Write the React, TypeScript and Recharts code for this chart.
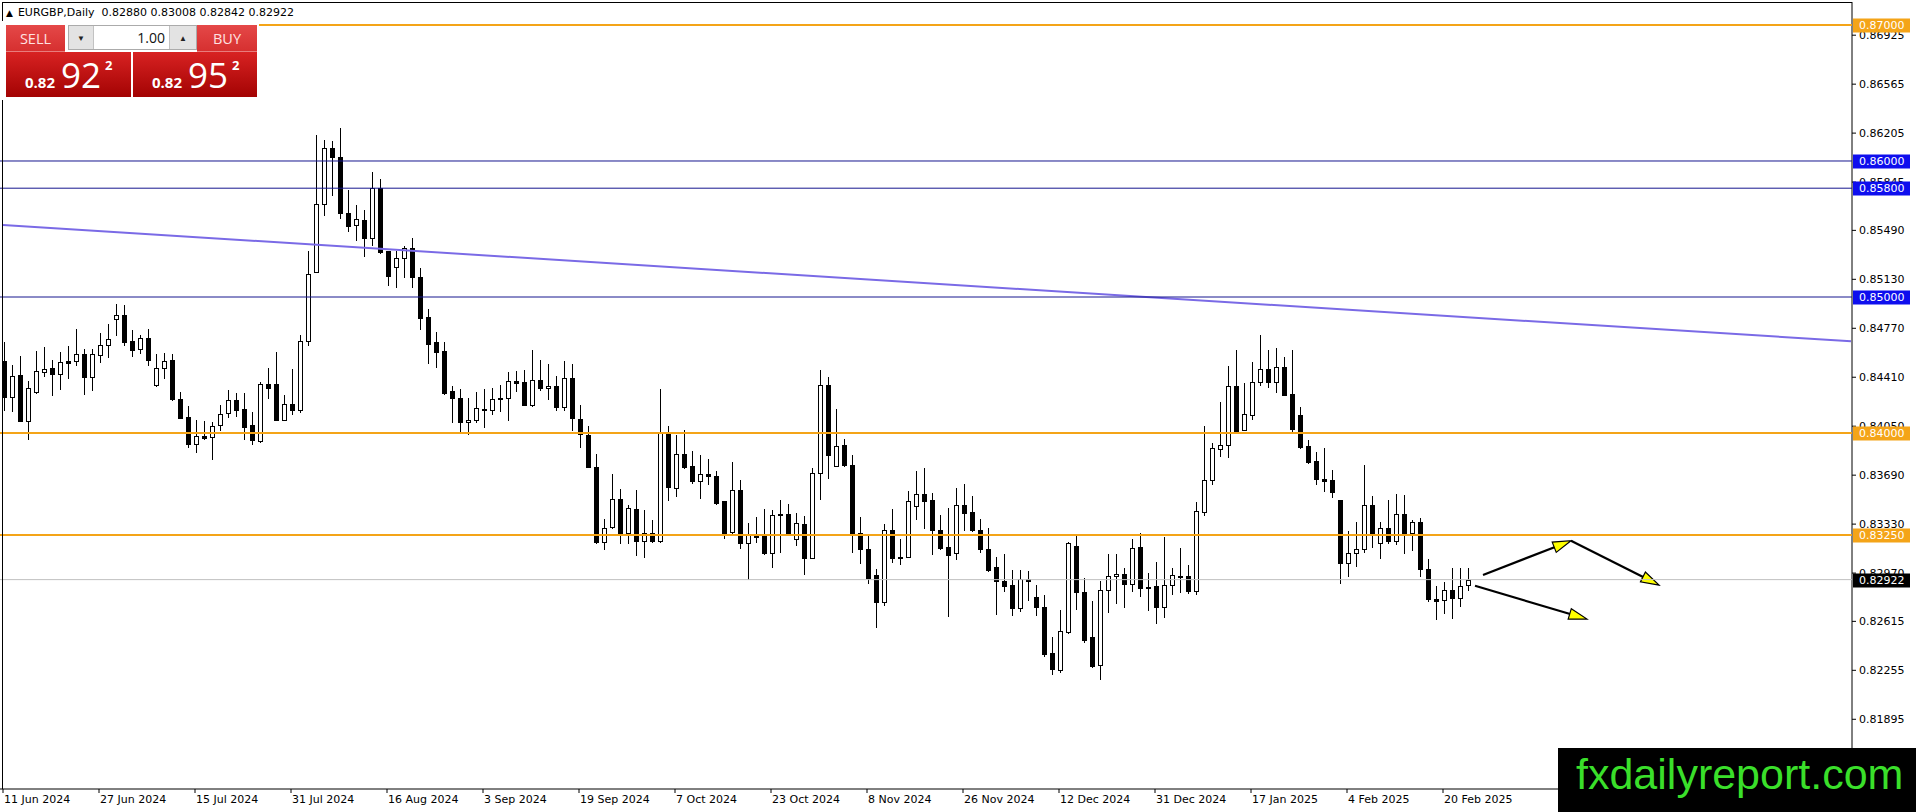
import React from 'react';
import { ComposedChart, Bar, XAxis, YAxis, ReferenceLine } from 'recharts';

// ---- candle data (EURGBP daily, 11 Jun 2024 .. 25 Feb 2025) ----
const opens = [
  0.84527,0.84265,0.84424,0.84089,0.84302,0.84451,0.84476,0.84437,0.84527,0.84530,
  0.84579,0.84412,0.84576,0.84650,0.84841,0.84865,0.84674,0.84620,0.84701,0.84353,
  0.84478,0.84535,0.84253,0.84116,0.83922,0.83976,0.83971,0.84057,0.84147,0.84240,
  0.84174,0.84057,0.83939,0.84359,0.84359,0.84098,0.84216,0.84172,0.84677,0.85183,
  0.85685,0.86098,0.86032,0.85619,0.85528,0.85569,0.85434,0.85798,0.85336,0.85218,
  0.85287,0.85360,0.85146,0.84851,0.84667,0.84603,0.84308,0.84261,0.84081,0.84098,
  0.84180,0.84172,0.84260,0.84260,0.84385,0.84373,0.84206,0.84392,0.84333,0.84348,
  0.84191,0.84407,0.84105,0.83983,0.83748,0.83201,0.83309,0.83517,0.83267,0.83444,
  0.83206,0.83267,0.83203,0.84007,0.83598,0.83843,0.83755,0.83647,0.83701,0.83681,
  0.83498,0.83272,0.83583,0.83191,0.83235,0.83243,0.83118,0.83402,0.83407,0.83223,
  0.83333,0.83081,0.83708,0.84350,0.83760,0.83914,0.83767,0.83267,0.83149,0.82953,
  0.82757,0.83289,0.83091,0.83091,0.83463,0.83554,0.83510,0.83284,0.83159,0.83120,
  0.83468,0.83417,0.83289,0.83149,0.83018,0.82915,0.82886,0.82711,0.82927,0.82797,
  0.82723,0.82384,0.82261,0.82539,0.83166,0.82834,0.82497,0.82293,0.82846,0.82947,
  0.82964,0.82891,0.83161,0.82871,0.82873,0.82723,0.82883,0.82952,0.82947,0.82839,
  0.83419,0.83652,0.83880,0.83909,0.84345,0.84020,0.84130,0.84377,0.84468,0.84372,
  0.84483,0.84287,0.84132,0.83904,0.83794,0.83659,0.83655,0.83508,0.83042,0.83116,
  0.83145,0.83471,0.83189,0.83299,0.83209,0.83405,0.83263,0.83348,0.83000,0.82780,
  0.82773,0.82846,0.82785,0.82880,
];
const highs = [
  0.84669,0.84498,0.84564,0.84383,0.84601,0.84633,0.84535,0.84596,0.84637,0.84762,
  0.84620,0.84620,0.84738,0.84804,0.84951,0.84939,0.84755,0.84723,0.84767,0.84584,
  0.84588,0.84584,0.84302,0.84199,0.84098,0.84086,0.84081,0.84209,0.84314,0.84297,
  0.84294,0.84155,0.84376,0.84480,0.84593,0.84278,0.84470,0.84721,0.85341,0.86189,
  0.86153,0.86148,0.86239,0.85784,0.85680,0.85643,0.85921,0.85865,0.85336,0.85336,
  0.85373,0.85434,0.85213,0.84910,0.84740,0.84667,0.84344,0.84327,0.84261,0.84303,
  0.84327,0.84333,0.84355,0.84449,0.84453,0.84461,0.84613,0.84534,0.84510,0.84417,
  0.84527,0.84510,0.84208,0.84049,0.83848,0.83370,0.83701,0.83586,0.83473,0.83583,
  0.83431,0.83363,0.84326,0.84049,0.83983,0.84025,0.83865,0.83836,0.83811,0.83718,
  0.83498,0.83787,0.83652,0.83341,0.83382,0.83444,0.83431,0.83505,0.83480,0.83414,
  0.83387,0.83745,0.84461,0.84412,0.84174,0.83958,0.83836,0.83382,0.83243,0.82998,
  0.83328,0.83439,0.83218,0.83571,0.83718,0.83743,0.83561,0.83395,0.83449,0.83596,
  0.83627,0.83538,0.83370,0.83299,0.83087,0.83107,0.82996,0.82989,0.82982,0.82886,
  0.82812,0.82497,0.82699,0.83198,0.83242,0.82937,0.82768,0.82910,0.83107,0.83107,
  0.83009,0.83223,0.83264,0.82972,0.83055,0.83235,0.83009,0.83156,0.83033,0.83493,
  0.84052,0.83929,0.84230,0.84492,0.84610,0.84370,0.84522,0.84720,0.84610,0.84622,
  0.84561,0.84610,0.84189,0.83949,0.83858,0.83892,0.83728,0.83508,0.83282,0.83348,
  0.83765,0.83539,0.83348,0.83508,0.83552,0.83544,0.83361,0.83373,0.83074,0.82875,
  0.82902,0.83005,0.83005,0.83008,
];
const lows = [
  0.84167,0.84162,0.84085,0.83959,0.84294,0.84417,0.84277,0.84321,0.84405,0.84498,
  0.84290,0.84314,0.84522,0.84559,0.84723,0.84645,0.84569,0.84588,0.84500,0.84346,
  0.84405,0.84240,0.84110,0.83898,0.83861,0.83959,0.83812,0.84020,0.84118,0.84123,
  0.83959,0.83921,0.83934,0.84261,0.84093,0.84093,0.84138,0.84155,0.84647,0.85183,
  0.85606,0.85747,0.85582,0.85483,0.85422,0.85299,0.85385,0.85323,0.85090,0.85070,
  0.85144,0.85077,0.84765,0.84512,0.84487,0.84290,0.84081,0.84007,0.83990,0.84081,
  0.84044,0.84137,0.84162,0.84098,0.84309,0.84206,0.84199,0.84319,0.84252,0.84167,
  0.84167,0.84020,0.83897,0.83750,0.83191,0.83147,0.83301,0.83191,0.83191,0.83100,
  0.83088,0.83196,0.83196,0.83510,0.83534,0.83745,0.83632,0.83525,0.83623,0.83480,
  0.83230,0.83260,0.83154,0.82924,0.83199,0.83113,0.83015,0.83125,0.83248,0.83179,
  0.82966,0.83081,0.83517,0.83672,0.83760,0.83755,0.83125,0.83047,0.82897,0.82574,
  0.82738,0.83051,0.83039,0.83088,0.83365,0.83301,0.83113,0.83150,0.82654,0.83071,
  0.83289,0.83279,0.83124,0.82984,0.82669,0.82841,0.82664,0.82689,0.82772,0.82664,
  0.82362,0.82226,0.82246,0.82526,0.82706,0.82465,0.82276,0.82194,0.82681,0.82748,
  0.82723,0.82836,0.82800,0.82699,0.82600,0.82645,0.82817,0.82829,0.82822,0.82817,
  0.83400,0.83623,0.83831,0.83821,0.84010,0.84020,0.84100,0.84353,0.84341,0.84304,
  0.84282,0.84017,0.83887,0.83777,0.83623,0.83576,0.83527,0.82895,0.82949,0.83022,
  0.83123,0.83165,0.83079,0.83194,0.83184,0.83116,0.83140,0.82949,0.82765,0.82630,
  0.82680,0.82638,0.82731,0.82842,
];
const closes = [
  0.84265,0.84422,0.84089,0.84334,0.84454,0.84468,0.84434,0.84520,0.84517,0.84579,
  0.84412,0.84579,0.84645,0.84694,0.84865,0.84669,0.84608,0.84701,0.84535,0.84481,
  0.84532,0.84253,0.84113,0.83917,0.83976,0.83964,0.84052,0.84143,0.84240,0.84172,
  0.84045,0.83946,0.84359,0.84332,0.84098,0.84216,0.84172,0.84677,0.85169,0.85685,
  0.86098,0.86032,0.85619,0.85520,0.85574,0.85434,0.85798,0.85328,0.85151,0.85287,
  0.85360,0.85144,0.84849,0.84652,0.84598,0.84295,0.84261,0.84081,0.84098,0.84187,
  0.84172,0.84252,0.84250,0.84382,0.84370,0.84206,0.84392,0.84333,0.84348,0.84191,
  0.84407,0.84110,0.83990,0.83750,0.83196,0.83304,0.83517,0.83267,0.83451,0.83206,
  0.83267,0.83203,0.84007,0.83603,0.83843,0.83750,0.83647,0.83701,0.83686,0.83485,
  0.83265,0.83583,0.83191,0.83248,0.83243,0.83118,0.83400,0.83395,0.83267,0.83341,
  0.83081,0.83708,0.84350,0.83838,0.83907,0.83762,0.83255,0.83147,0.82934,0.82757,
  0.83289,0.83083,0.83081,0.83498,0.83554,0.83500,0.83289,0.83154,0.83105,0.83473,
  0.83412,0.83284,0.83146,0.82996,0.82910,0.82878,0.82711,0.82927,0.82910,0.82718,
  0.82374,0.82268,0.82546,0.83188,0.82829,0.82477,0.82288,0.82849,0.82952,0.82964,
  0.82891,0.83156,0.82859,0.82859,0.82723,0.82883,0.82957,0.82940,0.82836,0.83424,
  0.83653,0.83887,0.83909,0.84345,0.84015,0.84137,0.84375,0.84468,0.84372,0.84483,
  0.84282,0.84029,0.83900,0.83789,0.83659,0.83650,0.83569,0.83042,0.83116,0.83145,
  0.83471,0.83263,0.83299,0.83209,0.83405,0.83263,0.83348,0.82998,0.82777,0.82768,
  0.82846,0.82785,0.82875,0.82922,
];

// ---- axis data ----
const slotCount = 232; // daily slots incl. empty future area
const tickIndex = [0, 12, 24, 36, 48, 60, 72, 84, 96, 108, 120, 132, 144, 156, 168, 180];
const tickLabels = [
  '11 Jun 2024', '27 Jun 2024', '15 Jul 2024', '31 Jul 2024', '16 Aug 2024', '3 Sep 2024',
  '19 Sep 2024', '7 Oct 2024', '23 Oct 2024', '8 Nov 2024', '26 Nov 2024', '12 Dec 2024',
  '31 Dec 2024', '17 Jan 2025', '4 Feb 2025', '20 Feb 2025',
];
const priceTicks = [
  0.86925, 0.86565, 0.86205, 0.85845, 0.8549, 0.8513, 0.8477, 0.8441, 0.8405, 0.8369,
  0.8333, 0.8297, 0.82615, 0.82255, 0.81895,
];
const priceDomain = [0.813824, 0.871691];

// ---- drawn objects ----
const orangeLevels = [0.87, 0.84, 0.8325];
const blueLevels = [0.86, 0.858, 0.85];
const bidPrice = 0.82922;
const trendLine = [{ x: 0, y: 0.85529 }, { x: 231, y: 0.84674 }];
const arrowSegments = [
  [{ x: 185, y: 0.82956 }, { x: 196, y: 0.83208 }],
  [{ x: 196, y: 0.83208 }, { x: 207, y: 0.82882 }],
  [{ x: 184, y: 0.82877 }, { x: 198, y: 0.82632 }],
];

const chartData = Array.from({ length: slotCount }, (_, i) =>
  i < opens.length
    ? { i, o: opens[i], h: highs[i], l: lows[i], c: closes[i], range: [lows[i], highs[i]] }
    : { i }
);

const AX_FONT = "'DejaVu Sans', Verdana, sans-serif";
const ORANGE = '#F4A418';
const BLUE_LINE = '#16168E';
const BLUE_TAG = '#0E0EEE';

function Candle(props: any) {
  const { x, y, width, height, payload } = props;
  if (!payload || payload.o == null || x == null) return null;
  const top = Math.min(y, y + height);
  const bot = Math.max(y, y + height);
  const span = payload.h - payload.l;
  const toY = (v: number) => (span > 0 ? top + ((payload.h - v) / span) * (bot - top) : top);
  const cx = Math.round(x + width / 2);
  const yo = Math.round(toY(payload.o));
  const yc = Math.round(toY(payload.c));
  const up = payload.c >= payload.o;
  const bTop = Math.min(yo, yc);
  const bH = Math.abs(yo - yc);
  return (
    <g>
      <line x1={cx + 0.5} x2={cx + 0.5} y1={Math.round(top)} y2={Math.round(bot) + 1} stroke="#000" strokeWidth={1} />
      {bH >= 1 ? (
        <rect x={cx - 1.5} y={bTop + 0.5} width={4} height={bH} fill={up ? '#fff' : '#000'} stroke="#000" strokeWidth={1} />
      ) : (
        <line x1={cx - 2} x2={cx + 3} y1={bTop + 0.5} y2={bTop + 0.5} stroke="#000" strokeWidth={1} />
      )}
    </g>
  );
}

function ArrowShape(props: any) {
  const { x1, y1, x2, y2 } = props;
  if ([x1, y1, x2, y2].some((v) => v == null || isNaN(v))) return null;
  const dx = x2 - x1;
  const dy = y2 - y1;
  const len = Math.hypot(dx, dy) || 1;
  const ux = dx / len;
  const uy = dy / len;
  const L = 18;
  const W = 5.5;
  const bx = x2 - ux * L;
  const by = y2 - uy * L;
  const px = -uy * W;
  const py = ux * W;
  return (
    <g>
      <line x1={x1} y1={y1} x2={bx + ux * 3} y2={by + uy * 3} stroke="#000" strokeWidth={2.2} />
      <polygon
        points={`${x2},${y2} ${bx + px},${by + py} ${bx - px},${by - py}`}
        fill="#FFFF00"
        stroke="#000"
        strokeWidth={1.2}
        strokeLinejoin="miter"
      />
    </g>
  );
}

function makeTag(text: string, bg: string, fg: string) {
  return (p: any) => {
    const vb = p.viewBox || {};
    const rx = (vb.x || 0) + (vb.width || 0) + 1;
    const cy = vb.y || 0;
    return (
      <g>
        <rect x={rx} y={Math.round(cy) - 6.5} width={57} height={14} fill={bg} />
        <text x={rx + 6} y={cy} dy="0.36em" fill={fg} fontSize={11} fontFamily={AX_FONT}>
          {text}
        </text>
      </g>
    );
  };
}

function XTick(props: any) {
  const { x, y, payload } = props;
  const k = tickIndex.indexOf(Number(payload.value));
  if (k < 0) return null;
  return (
    <text x={x + 1} y={y} dy="0.71em" fontSize={11} fontFamily={AX_FONT} fill="#000" textAnchor="start">
      {tickLabels[k]}
    </text>
  );
}

function YTick(props: any) {
  const { x, y, payload } = props;
  return (
    <text x={x} y={y} dy="0.355em" fontSize={11} fontFamily={AX_FONT} fill="#000" textAnchor="start">
      {Number(payload.value).toFixed(5)}
    </text>
  );
}

const abs = (o: React.CSSProperties): React.CSSProperties => ({ position: 'absolute', ...o });

function PricePanel({ left, width, big }: { left: number; width: number; big: string }) {
  return (
    <div
      style={abs({
        left,
        top: 52,
        width,
        height: 45,
        background: 'linear-gradient(#D82222, #A30303)',
        color: '#fff',
        fontFamily: "'Open Sans', 'Noto Sans', sans-serif",
      })}
    >
      <span style={abs({ left: 19, top: 22.7, fontSize: 15, lineHeight: '15px', fontWeight: 700 })}>0.82</span>
      <span style={abs({ left: 55, top: 4.9, fontSize: 35, lineHeight: '35px' })}>{big}</span>
      <span style={abs({ left: 99, top: 6.8, fontSize: 13, lineHeight: '13px', fontWeight: 700 })}>2</span>
    </div>
  );
}

export default function App() {
  const btn = (left: number, width: number, text: string): React.ReactNode => (
    <div
      style={abs({
        left,
        top: 25,
        width,
        height: 27,
        background: 'linear-gradient(#E54848, #D63030)',
        color: '#FFE2E2',
        fontFamily: "'Open Sans', 'Noto Sans', sans-serif",
        fontSize: 14.5,
        display: 'flex',
        alignItems: 'center',
        justifyContent: 'center',
        boxSizing: 'border-box',
        borderBottom: '1px solid #E87C7C',
      })}
    >
      {text}
    </div>
  );

  return (
    <div style={abs({ left: 0, top: 0, width: 1916, height: 812, background: '#fff', overflow: 'hidden' })}>
      <div style={abs({ left: 0, top: 0 })}>
        <ComposedChart
          width={1916}
          height={812}
          data={chartData}
          margin={{ top: 2, right: 0, bottom: 0, left: -1 }}
          barCategoryGap={0}
        >
          <XAxis
            dataKey="i"
            type="category"
            ticks={tickIndex}
            interval={0}
            height={23}
            padding={{ left: 0, right: -3 }}
            tickSize={4}
            tickMargin={2}
            axisLine={{ stroke: '#000' }}
            tickLine={{ stroke: '#000' }}
            tick={<XTick />}
          />
          <YAxis
            orientation="right"
            type="number"
            width={64}
            domain={priceDomain}
            allowDataOverflow
            ticks={priceTicks}
            interval={0}
            tickSize={4}
            tickMargin={3}
            axisLine={{ stroke: '#000' }}
            tickLine={{ stroke: '#000' }}
            tick={<YTick />}
          />
          <Bar dataKey="range" barSize={5} shape={<Candle />} isAnimationActive={false} />
          <ReferenceLine y={bidPrice} stroke="#C0C0C0" strokeWidth={1} zIndex={2100} label={makeTag(bidPrice.toFixed(5), '#000', '#fff')} />
          {blueLevels.map((p) => (
            <ReferenceLine key={'b' + p} y={p} stroke={BLUE_LINE} strokeWidth={1} zIndex={2100} label={makeTag(p.toFixed(5), BLUE_TAG, '#fff')} />
          ))}
          {orangeLevels.map((p) => (
            <ReferenceLine key={'o' + p} y={p} stroke={ORANGE} strokeWidth={2} zIndex={2100} label={makeTag(p.toFixed(5), ORANGE, '#fff')} />
          ))}
          <ReferenceLine segment={trendLine} stroke="#7A6AE6" strokeWidth={2} ifOverflow="visible" />
          {arrowSegments.map((seg, k) => (
            <ReferenceLine key={'a' + k} segment={seg} ifOverflow="visible" shape={<ArrowShape />} />
          ))}
        </ComposedChart>
      </div>

      {/* chart frame (left and top edges) */}
      <div
        style={abs({
          left: 2,
          top: 2,
          width: 1850,
          height: 787,
          borderLeft: '1px solid #000',
          borderTop: '1px solid #000',
          boxSizing: 'border-box',
          pointerEvents: 'none',
        })}
      />

      {/* title */}
      <div
        style={abs({
          left: 6,
          top: 6,
          fontFamily: AX_FONT,
          fontSize: 11,
          lineHeight: '13px',
          whiteSpace: 'pre',
          color: '#000',
        })}
      >
        <span style={{ fontSize: 9, marginRight: 5 }}>▲</span>
        {'EURGBP,Daily  0.82880 0.83008 0.82842 0.82922'}
      </div>

      {/* one-click trading panel */}
      <div style={abs({ left: 0, top: 21, width: 259, height: 79, background: '#fff' })} />
      {btn(6, 59, 'SELL')}
      <div
        style={abs({
          left: 68,
          top: 25,
          width: 129,
          height: 25,
          border: '1px solid #ABABAB',
          boxSizing: 'border-box',
          background: '#fff',
          fontFamily: "'Open Sans', 'Noto Sans', sans-serif",
        })}
      >
        <div
          style={abs({
            left: 0,
            top: 0,
            width: 24,
            height: 23,
            background: '#E3E3E3',
            borderRight: '1px solid #C2C2C2',
            fontSize: 8,
            display: 'flex',
            alignItems: 'center',
            justifyContent: 'center',
            color: '#222',
          })}
        >
          ▼
        </div>
        <div style={abs({ right: 31, top: 0, height: 23, lineHeight: '23px', fontSize: 14, color: '#111' })}>1.00</div>
        <div
          style={abs({
            right: 0,
            top: 0,
            width: 26,
            height: 23,
            background: '#E3E3E3',
            borderLeft: '1px solid #C2C2C2',
            fontSize: 8,
            display: 'flex',
            alignItems: 'center',
            justifyContent: 'center',
            color: '#222',
          })}
        >
          ▲
        </div>
      </div>
      {btn(197, 60, 'BUY')}
      <PricePanel left={6} width={125} big="92" />
      <PricePanel left={133} width={124} big="95" />

      {/* watermark */}
      <div style={abs({ left: 1558, top: 748, width: 358, height: 64, background: '#000' })}>
        <span
          style={abs({
            left: 18,
            top: 4.6,
            fontFamily: "'Liberation Sans', Arial, sans-serif",
            fontSize: 43,
            lineHeight: '43px',
            color: '#3ADF2A',
            whiteSpace: 'pre',
          })}
        >
          fxdailyreport.com
        </span>
      </div>
    </div>
  );
}
